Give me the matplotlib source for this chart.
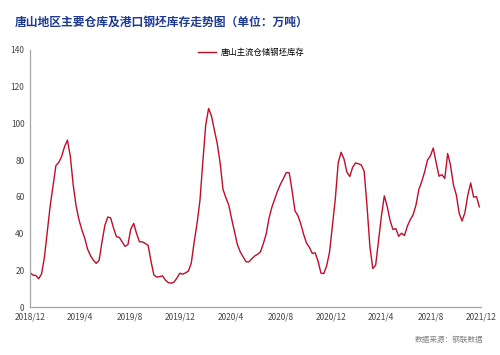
import numpy as np
import pandas as pd
import matplotlib.pyplot as plt
import matplotlib.dates as mdates

plt.rcParams['font.family'] = ['Noto Sans CJK SC', 'DejaVu Sans']

# weekly stock, 10k tonnes
stock = [
    18.8, 17.4, 17.2, 15.4, 18.0, 27.0, 41.0, 55.0, 66.0, 77.0,
    78.7, 82.0, 87.3, 90.8, 82.0, 66.5, 55.0, 47.5, 42.0, 37.5,
    31.5, 28.0, 25.5, 23.8, 25.5, 35.5, 44.5, 49.0, 48.5, 43.0,
    38.3, 37.9, 35.4, 33.0, 34.0, 42.5, 45.5, 40.0, 35.5, 35.5,
    34.6, 33.6, 25.0, 17.5, 16.3, 16.5, 17.0, 14.7, 13.3, 13.0,
    13.6, 15.8, 18.4, 17.9, 18.6, 19.6, 24.0, 35.5, 45.5, 58.0,
    79.0, 99.0, 108.0, 104.0, 96.3, 89.0, 78.5, 64.0, 59.5, 55.5,
    48.0, 41.0, 34.0, 30.0, 27.3, 24.6, 24.6, 26.3, 27.8, 28.7,
    30.0, 34.5, 39.8, 48.5, 54.5, 59.0, 63.4, 67.0, 70.0, 73.2,
    73.0, 63.2, 52.3, 49.8, 45.3, 39.5, 34.8, 32.5, 29.2, 29.5,
    25.0, 18.5, 18.2, 22.5, 30.0, 44.5, 59.0, 78.5, 84.2, 80.6,
    73.5, 71.0, 76.0, 78.4, 78.0, 77.3, 74.0, 55.0, 33.0, 21.0,
    22.8, 36.0, 49.5, 60.5, 54.8, 47.2, 42.2, 42.7, 38.5, 40.2,
    38.9, 44.0, 47.5, 50.2, 55.5, 64.0, 68.3, 73.5, 80.0, 82.3,
    86.5, 78.5, 71.2, 72.0, 70.0, 83.5, 77.0, 66.5, 61.0, 51.0,
    46.8, 51.5, 61.0, 67.5, 59.8, 60.1, 54.5,
]
dates = pd.date_range('2018-12-01', periods=len(stock), freq='7D')
tick_dates = pd.date_range('2018-12-01', '2021-12-01', freq='4MS')

fig = plt.figure(figsize=(5, 3.55), dpi=100)
ax = fig.add_axes([0.06, 0.135, 0.902, 0.725])

ax.plot(dates, stock, color='#c00d2a', linewidth=1.0, label='唐山主流仓储钢坯库存')

ax.set_xlim(pd.Timestamp('2018-12-01'), pd.Timestamp('2021-12-01'))
ax.set_ylim(0, 140)
ax.set_yticks(range(0, 141, 20))
ax.set_xticks(tick_dates)
ax.set_xticklabels([f'{d.year}/{d.month}' for d in tick_dates])
ax.tick_params(axis='both', length=0, labelsize=6, colors='#444444', pad=4)

for side in ['top', 'right']:
    ax.spines[side].set_visible(False)
for side in ['left', 'bottom']:
    ax.spines[side].set_color('#a6a6a6')
    ax.spines[side].set_linewidth(0.9)

ax.legend(loc='upper center', bbox_to_anchor=(0.49, 1.035), frameon=False,
          fontsize=6, handlelength=2.2, handletextpad=0.5)

fig.text(0.03, 0.937, '唐山地区主要仓库及港口钢坯库存走势图（单位：万吨）',
         color='#1f3a93', fontsize=8.5, fontweight='bold', va='center')
fig.text(0.966, 0.042, '数据来源：钢联数据', color='#808080', fontsize=5.5,
         ha='right', va='center')

fig.savefig('out.png', dpi=100)
